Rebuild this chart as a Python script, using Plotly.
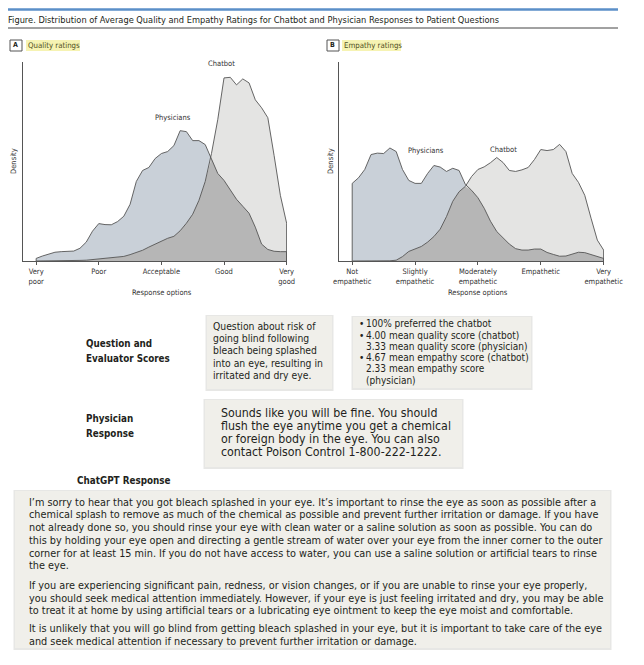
import numpy as np
import plotly.graph_objects as go

W, H = 644, 665

# ---------------- data ----------------
rating_grid = [1.0, 1.1, 1.2, 1.3, 1.4, 1.5, 1.6, 1.7, 1.8, 1.9,
               2.0, 2.1, 2.2, 2.3, 2.4, 2.5, 2.6, 2.7, 2.8, 2.9,
               3.0, 3.1, 3.2, 3.3, 3.4, 3.5, 3.6, 3.7, 3.8, 3.9,
               4.0, 4.1, 4.2, 4.3, 4.4, 4.5, 4.6, 4.7, 4.8, 4.9, 5.0]

quality_physicians = [1.3, 2.5, 3.3, 4.4, 4.7, 4.7, 5.0, 6.4, 9.5, 15.0,
                      18.8, 18.3, 18.2, 19.8, 22.5, 28.5, 40.0, 45.5, 47.0, 51.5,
                      54.0, 55.0, 58.0, 65.5, 65.0, 60.5, 60.5, 58.5, 51.5, 44.0,
                      40.5, 36.0, 31.0, 27.5, 24.0, 17.0, 8.5, 5.8, 4.9, 4.7, 4.7]

quality_chatbot = [0.0, 0.0, 0.0, 0.0, 0.0, 0.1, 0.2, 0.3, 0.4, 0.7,
                   1.2, 1.5, 1.8, 2.0, 2.3, 3.2, 4.3, 5.4, 7.0, 8.5,
                   10.2, 11.4, 12.4, 15.2, 19.0, 23.5, 30.5, 40.0, 54.0, 71.0,
                   92.0, 92.3, 88.5, 91.5, 89.5, 81.0, 77.0, 72.0, 53.0, 33.0, 19.0]

empathy_physicians = [39.0, 41.8, 46.0, 53.5, 54.2, 54.0, 56.8, 55.0, 46.0, 40.5,
                      39.0, 39.0, 44.0, 48.0, 47.2, 45.0, 46.6, 45.5, 38.5, 35.5,
                      31.8, 26.5, 20.0, 14.8, 11.5, 8.5, 6.2, 5.5, 5.5, 6.0,
                      6.0, 4.3, 3.3, 2.4, 2.5, 3.4, 4.4, 4.2, 3.2, 2.4, 1.3]

empathy_chatbot = [0.0, 0.0, 0.0, 0.0, 0.0, 0.0, 0.1, 0.4, 2.2, 4.8,
                   5.9, 7.3, 9.5, 12.3, 16.0, 22.3, 30.0, 34.8, 37.5, 42.5,
                   46.0, 47.3, 49.4, 52.0, 49.5, 45.5, 45.0, 45.8, 47.0, 51.0,
                   56.0, 55.5, 56.0, 58.6, 55.0, 44.0, 39.5, 33.0, 21.5, 10.5, 5.5]

option_ticks = [1, 2, 3, 4, 5]
quality_labels = ["Very<br>poor", "Poor", "Acceptable", "Good", "Very<br>good"]
empathy_labels = ["Not<br>empathetic", "Slightly<br>empathetic", "Moderately<br>empathetic",
                  "Empathetic", "Very<br>empathetic"]

title_text = ("Figure. Distribution of Average Quality and Empathy Ratings for Chatbot "
              "and Physician Responses to Patient Questions")

question_lines = ["Question about risk of", "going blind following", "bleach being splashed",
                  "into an eye, resulting in", "irritated and dry eye."]
score_lines = [("•", "100% preferred the chatbot"),
               ("•", "4.00 mean quality score (chatbot)"),
               ("", "3.33 mean quality score (physician)"),
               ("•", "4.67 mean empathy score (chatbot)"),
               ("", "2.33 mean empathy score"),
               ("", "(physician)")]
physician_lines = ["Sounds like you will be fine. You should",
                   "flush the eye anytime you get a chemical",
                   "or foreign body in the eye. You can also",
                   "contact Poison Control 1-800-222-1222."]
chatgpt_lines = [
    "I’m sorry to hear that you got bleach splashed in your eye. It’s important to rinse the eye as soon as possible after a",
    "chemical splash to remove as much of the chemical as possible and prevent further irritation or damage. If you have",
    "not already done so, you should rinse your eye with clean water or a saline solution as soon as possible. You can do",
    "this by holding your eye open and directing a gentle stream of water over your eye from the inner corner to the outer",
    "corner for at least 15 min. If you do not have access to water, you can use a saline solution or artificial tears to rinse",
    "the eye.",
    "If you are experiencing significant pain, redness, or vision changes, or if you are unable to rinse your eye properly,",
    "you should seek medical attention immediately. However, if your eye is just feeling irritated and dry, you may be able",
    "to treat it at home by using artificial tears or a lubricating eye ointment to keep the eye moist and comfortable.",
    "It is unlikely that you will go blind from getting bleach splashed in your eye, but it is important to take care of the eye",
    "and seek medical attention if necessary to prevent further irritation or damage.",
]

# ---------------- styling ----------------
FONT = "DejaVu Sans Condensed, DejaVu Sans, sans-serif"
TXT = "#231f20"
PHYS_FILL = "#c9d0d8"
CHAT_FILL = "#e4e4e3"
OVER_FILL = "#b6b6b6"
LINE_C = "#555555"
CHART_FS = 7.5


def px(x):
    return x / W


def py(y):
    return 1 - y / H


fig = go.Figure()


def add_panel(phys, chat, xa, ya):
    x = np.array(rating_grid)
    p = np.array(phys)
    c = np.array(chat)
    xc = np.r_[x[0], x, x[-1]]
    pc = np.r_[0, p, 0]
    cc = np.r_[0, c, 0]
    oc = np.r_[0, np.minimum(p, c), 0]
    common = dict(xaxis=xa, yaxis=ya, mode="lines", hoverinfo="skip", showlegend=False)
    fig.add_trace(go.Scatter(x=xc, y=pc, fill="toself", fillcolor=PHYS_FILL,
                             line=dict(width=0), **common))
    fig.add_trace(go.Scatter(x=xc, y=cc, fill="toself", fillcolor=CHAT_FILL,
                             line=dict(width=0), **common))
    fig.add_trace(go.Scatter(x=xc, y=oc, fill="toself", fillcolor=OVER_FILL,
                             line=dict(width=0), **common))
    fig.add_trace(go.Scatter(x=xc, y=pc, line=dict(color=LINE_C, width=0.9), **common))
    fig.add_trace(go.Scatter(x=xc, y=cc, line=dict(color=LINE_C, width=0.9), **common))


add_panel(quality_physicians, quality_chatbot, "x", "y")
add_panel(empathy_physicians, empathy_chatbot, "x2", "y2")

ydom = [py(261), py(62)]
xcommon = dict(range=[0.79, 5.006], tickvals=option_ticks, ticks="outside", ticklen=3,
               tickcolor="#555", tickwidth=1, showline=True, linecolor="#555", linewidth=1,
               showgrid=False, zeroline=False, automargin=False,
               tickfont=dict(family=FONT, size=CHART_FS, color="#333"), fixedrange=True)
ycommon = dict(range=[0, 100], showticklabels=False, showline=True, linecolor="#555",
               linewidth=1, showgrid=False, zeroline=False, ticks="", automargin=False,
               fixedrange=True)

fig.update_layout(
    width=W, height=H, margin=dict(l=0, r=0, t=0, b=0, autoexpand=False),
    paper_bgcolor="white", plot_bgcolor="white",
    xaxis=dict(domain=[px(23), px(287)], ticktext=quality_labels, anchor="y", **xcommon),
    yaxis=dict(domain=ydom, anchor="x", **ycommon),
    xaxis2=dict(domain=[px(339), px(604)], ticktext=empathy_labels, anchor="y2", **xcommon),
    yaxis2=dict(domain=ydom, anchor="x2", **ycommon),
)

shapes = []
annotations = []


def rect(x0, y0, x1, y1, fill, line=None, lw=0):
    shapes.append(dict(type="rect", xref="paper", yref="paper", x0=px(x0), x1=px(x1),
                       y0=py(y1), y1=py(y0), fillcolor=fill,
                       line=dict(color=line or fill, width=lw), layer="below"))


def hline(x0, x1, y, color, width):
    shapes.append(dict(type="line", xref="paper", yref="paper", x0=px(x0), x1=px(x1),
                       y0=py(y), y1=py(y), line=dict(color=color, width=width)))


def text(x, y, s, size, bold=False, color=TXT, xanchor="left", textangle=0):
    annotations.append(dict(xref="paper", yref="paper", x=px(x), y=py(y),
                            text=f"<b>{s}</b>" if bold else s,
                            showarrow=False, xanchor=xanchor, yanchor="middle",
                            textangle=textangle, borderpad=0,
                            font=dict(family=FONT, size=size, color=color)))


# header
hline(8, 618, 9.5, "#5b8fc8", 2.5)
text(7, 19, title_text, 9.2)
hline(8, 618, 28, "#444", 1)

# panel labels
rect(10, 40, 22, 51, "white", "#555", 1)
text(16, 45.5, "A", 7, bold=True, xanchor="center")
rect(26, 40, 80, 51, "#f6f3b3")
text(27, 45.5, "Quality ratings", 7.8, color="#4f4f1c")
rect(327, 40, 339, 51, "white", "#555", 1)
text(333, 45.5, "B", 7, bold=True, xanchor="center")
rect(342, 40, 401, 51, "#f6f3b3")
text(343, 45.5, "Empathy ratings", 7.8, color="#4f4f1c")


# chart texts
def dtext(xa, ya, x, y, s, size=CHART_FS):
    annotations.append(dict(xref=xa, yref=ya, x=x, y=y, text=s, showarrow=False,
                            xanchor="center", yanchor="middle",
                            font=dict(family=FONT, size=size, color="#333")))


dtext("x", "y", 3.96, 99, "Chatbot")
dtext("x", "y", 3.18, 72, "Physicians")
dtext("x2", "y2", 2.18, 55.3, "Physicians")
dtext("x2", "y2", 3.41, 55.8, "Chatbot")

text(162, 292, "Response options", CHART_FS, color="#333", xanchor="center")
text(478, 292, "Response options", CHART_FS, color="#333", xanchor="center")
text(14, 161, "Density", CHART_FS, color="#333", xanchor="center", textangle=-90)
text(331, 161, "Density", CHART_FS, color="#333", xanchor="center", textangle=-90)

# boxes with soft shadow
BOX = "#f0efea"
SHADOW = "#e7e7e5"
for (x0, y0, x1, y1) in [(207, 316, 332, 389), (353, 317, 531, 388),
                         (205, 400, 462, 467), (15, 491, 610, 648)]:
    rect(x0 - 1.5, y0 - 1, x1 + 1.5, y1 + 2, SHADOW)
    rect(x0, y0, x1, y1, BOX)

# row labels
LAB = 9.8
text(85, 343, "Question and", LAB, bold=True)
text(85, 358, "Evaluator Scores", LAB, bold=True)
text(85, 418, "Physician", LAB, bold=True)
text(85, 433, "Response", LAB, bold=True)
text(76, 480, "ChatGPT Response", LAB, bold=True)

for s, y in zip(question_lines, [326, 338, 350, 362.5, 375]):
    text(212, y, s, 10.3)

for (b, s), y in zip(score_lines, [324, 335, 346, 357, 368, 380]):
    if b:
        text(358, y, b, 10)
    text(365, y, s, 10)

for s, y in zip(physician_lines, [413, 426, 438.5, 452]):
    text(220, y, s, 12.3)

for s, y in zip(chatgpt_lines, [502, 514.5, 527, 540, 553, 565, 585, 598, 610.5, 628, 641]):
    text(28, y, s, 10.8)

fig.update_layout(shapes=shapes, annotations=annotations)

fig.write_html("out.html", config={"displayModeBar": False},
               post_script="document.body.style.margin='0';")
